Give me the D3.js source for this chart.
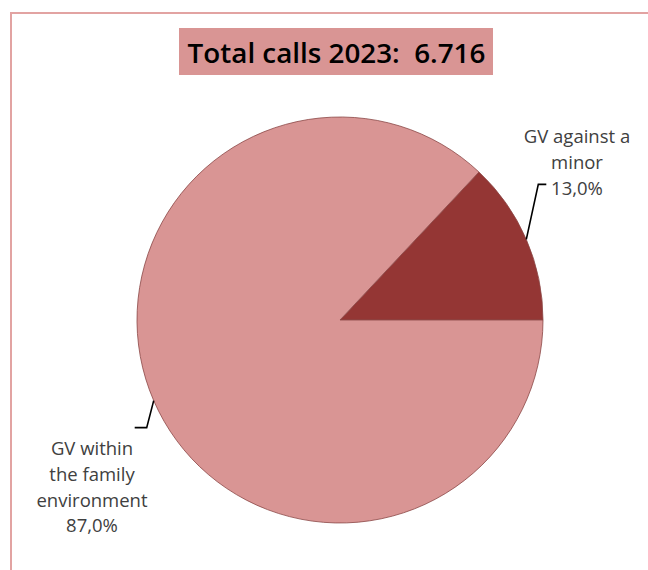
<!DOCTYPE html>
<html>
<head>
<meta charset="utf-8">
<script src="https://cdn.jsdelivr.net/npm/d3@7"></script>
<style>
  html, body { margin: 0; padding: 0; background: #fff; }
  svg { display: block; }
</style>
</head>
<body>
<svg id="chart" width="648" height="570"></svg>
<script>
// Calls by type of gender violence, 2023
const titleText = "Total calls 2023:  6.716";
const categories = ["GV against a minor", "GV within the family environment"];
const labelLines = [["GV against a", "minor"], ["GV within", "the family", "environment"]];
const values = [13.0, 87.0];
const colors = ["#943634", "#d99594"];

const W = 648, H = 570;
const cx = 340, cy = 320, R = 203;
const svg = d3.select("#chart");
const font = "'Open Sans', Lato, sans-serif";

// outer chart frame (runs off the right and bottom edges)
svg.append("rect")
  .attr("x", 11).attr("y", 13)
  .attr("width", 700).attr("height", 700)
  .attr("fill", "none")
  .attr("stroke", "#e2a3a2")
  .attr("stroke-width", 2);

// title with filled box
const titleG = svg.append("g");
titleG.append("rect")
  .attr("x", 179).attr("y", 28)
  .attr("width", 314).attr("height", 47)
  .attr("fill", "#d99594");
titleG.append("text")
  .attr("x", 336.5).attr("y", 63)
  .attr("text-anchor", "middle")
  .attr("font-family", font)
  .attr("font-weight", 600)
  .attr("font-size", 27.8)
  .attr("fill", "#000")
  .attr("xml:space", "preserve")
  .style("white-space", "pre")
  .text(titleText);

// pie: first slice sweeps counter-clockwise from 3 o'clock
const share = values[0] / d3.sum(values);
const start = Math.PI / 2 - share * 2 * Math.PI;
const pie = d3.pie().sort(null).value(d => d)
  .startAngle(start).endAngle(start + 2 * Math.PI);
const arcs = pie(values);
const arc = d3.arc().innerRadius(0).outerRadius(R);

const g = svg.append("g").attr("transform", `translate(${cx},${cy})`);
g.selectAll("path.slice")
  .data(arcs)
  .join("path")
  .attr("class", "slice")
  .attr("d", arc)
  .attr("fill", (d, i) => colors[i])
  .attr("stroke", "#8a4645")
  .attr("stroke-width", 0.8);

// data labels with elbow leader lines
const fmt = v => v.toFixed(1).replace(".", ",") + "%";
const leaders = [
  { dx: 12, dy: -55, hx: 8, tx: 577, ty: 143 },
  { dx: -7, dy: 27, hx: -12, tx: 92, ty: 455 }
];
const lineH = 25.8;

arcs.forEach((a, i) => {
  const mid = (a.startAngle + a.endAngle) / 2;
  const px = cx + R * Math.sin(mid);
  const py = cy - R * Math.cos(mid);
  const L = leaders[i];
  const ex = px + L.dx, ey = py + L.dy;
  svg.append("path")
    .attr("d", d3.line()([[px, py], [ex, ey], [ex + L.hx, ey]]))
    .attr("fill", "none")
    .attr("stroke", "#000")
    .attr("stroke-width", 1.6);

  const lines = labelLines[i].concat([fmt(values[i])]);
  const t = svg.append("text")
    .attr("text-anchor", "middle")
    .attr("font-family", font)
    .attr("font-size", 18.5)
    .attr("fill", "#404040");
  lines.forEach((ln, k) => {
    t.append("tspan")
      .attr("x", L.tx)
      .attr("y", L.ty + k * lineH)
      .text(ln);
  });
});
</script>
</body>
</html>
